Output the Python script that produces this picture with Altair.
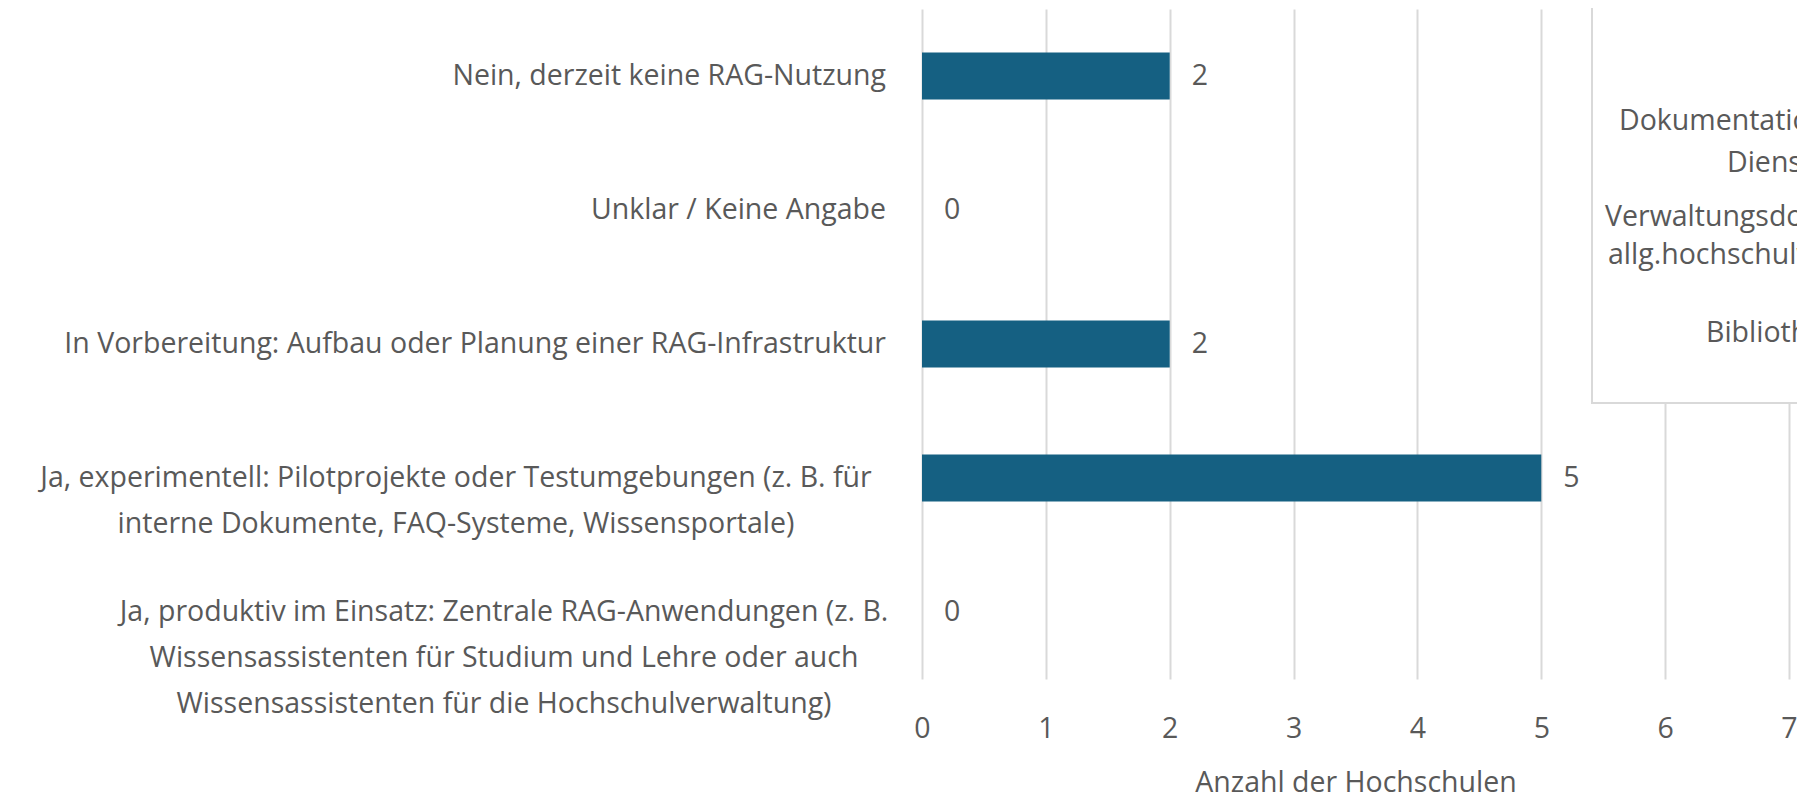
import altair as alt
import pandas as pd

categories = [
    "Nein, derzeit keine RAG-Nutzung",
    "Unklar / Keine Angabe",
    "In Vorbereitung: Aufbau oder Planung einer RAG-Infrastruktur",
    "Ja, experimentell: Pilotprojekte oder Testumgebungen (z. B. für interne Dokumente, FAQ-Systeme, Wissensportale)",
    "Ja, produktiv im Einsatz: Zentrale RAG-Anwendungen (z. B. Wissensassistenten für Studium und Lehre oder auch Wissensassistenten für die Hochschulverwaltung)",
]
label_lines = [
    ["Nein, derzeit keine RAG-Nutzung"],
    ["Unklar / Keine Angabe"],
    ["In Vorbereitung: Aufbau oder Planung einer RAG-Infrastruktur"],
    ["Ja, experimentell: Pilotprojekte oder Testumgebungen (z. B. für",
     "interne Dokumente, FAQ-Systeme, Wissensportale)"],
    ["Ja, produktiv im Einsatz: Zentrale RAG-Anwendungen (z. B.",
     "Wissensassistenten für Studium und Lehre oder auch",
     "Wissensassistenten für die Hochschulverwaltung)"],
]
values = [2, 0, 2, 5, 0]
x_ticks = [0, 1, 2, 3, 4, 5, 6, 7]
x_title = "Anzahl der Hochschulen"

# fragment of a neighbouring chart, cut off at the right edge
box_lines = [
    "Dokumentation und",
    "Dienste",
    "Verwaltungsdokumente,",
    "allg.hochschulweite",
    "Bibliotheken",
]

FONT = "Open Sans"
FS = 28.5
TXT = "#595959"
BAR = "#156082"
GRID = "#d9d9d9"

df = pd.DataFrame({
    "cat": categories,
    "val": values,
    "lines": label_lines,
    "nlines": [len(l) for l in label_lines],
})

y_enc = alt.Y("cat:N", sort=categories,
              scale=alt.Scale(paddingInner=0.65, paddingOuter=0.325),
              axis=None)

base = alt.Chart(df)

bars = base.mark_bar(color=BAR).encode(
    x=alt.X("val:Q",
            scale=alt.Scale(domain=[0, 7], nice=False),
            axis=alt.Axis(values=x_ticks, format="d", title=x_title, grid=True,
                          gridColor=GRID, gridWidth=2, domain=False,
                          ticks=False, labelFlush=False, labelFont=FONT,
                          labelFontSize=FS, labelColor=TXT, labelPadding=35,
                          titleFont=FONT, titleFontSize=FS,
                          titleFontWeight="normal", titleColor=TXT,
                          titlePadding=26)),
    y=y_enc,
)

values_txt = base.mark_text(align="left", baseline="middle", dx=22,
                            font=FONT, fontSize=FS, color=TXT).encode(
    x="val:Q", y=y_enc, text="val:Q")

single = base.transform_filter("datum.nlines == 1").mark_text(
    align="right", baseline="middle", font=FONT, fontSize=FS, color=TXT
).encode(x=alt.value(-36), y=y_enc, text="lines")

multi_a = base.transform_filter(alt.datum.cat == categories[3]).mark_text(
    align="center", baseline="middle", font=FONT, fontSize=FS, color=TXT,
    lineHeight=46
).encode(x=alt.value(-466), y=y_enc, text="lines")

multi_b = base.transform_filter(alt.datum.cat == categories[4]).mark_text(
    align="center", baseline="middle", font=FONT, fontSize=FS, color=TXT,
    lineHeight=46
).encode(x=alt.value(-418), y=y_enc, text="lines")

box = alt.Chart(pd.DataFrame({"k": [0]})).mark_rect(
    fill="white", stroke=GRID, strokeWidth=2
).encode(x=alt.value(670), x2=alt.value(1000), y=alt.value(-30), y2=alt.value(394))

box_pos = [(697, 112), (805, 154), (683, 208), (686, 246), (784, 324)]
box_texts = []
for t, (bx, by) in zip(box_lines, box_pos):
    box_texts.append(
        alt.Chart(pd.DataFrame({"k": [0]})).mark_text(
            text=t, align="left", baseline="middle", font=FONT,
            fontSize=FS, color=TXT
        ).encode(x=alt.value(bx), y=alt.value(by))
    )

chart = alt.layer(bars, values_txt, single, multi_a, multi_b, box, *box_texts).properties(
    width=867, height=670,
    autosize=alt.AutoSizeParams(type="none"),
    padding={"left": 914, "top": 1, "right": 8, "bottom": 116},
).configure_view(stroke=None)

chart.save("out.html", embed_options={"renderer": "svg", "actions": False})
